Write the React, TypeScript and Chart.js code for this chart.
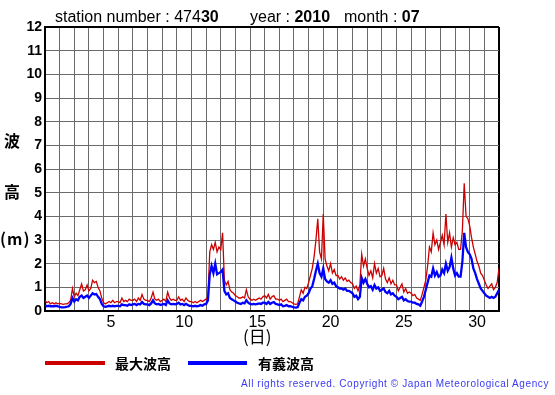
import React, { useEffect, useRef } from 'react';
import { Chart, registerables } from 'chart.js';

Chart.register(...registerables);

// ---- data -------------------------------------------------------------
const DAYS_IN_MONTH = 31;
const SAMPLES_PER_DAY = 8; // one sample every 3 hours
const Y_MIN = 0;
const Y_MAX = 12;
const DAY_LABEL_EVERY = 5;

const TITLE_STATION = '47430';
const TITLE_YEAR = '2010';
const TITLE_MONTH = '07';

const SERIES_NAMES = ['最大波高', '有義波高'];

// maximum wave height (m), 8 samples per day, plus the closing sample
const maxWave = [
  0.45, 0.35, 0.4, 0.3, 0.35, 0.3, 0.35, 0.3,
  0.32, 0.3, 0.28, 0.3, 0.3, 0.35, 0.45, 0.95,
  0.6, 0.75, 0.65, 0.9, 1.15, 0.85, 0.9, 1.1,
  0.85, 0.95, 1.3, 1.2, 1.25, 1.0, 0.85, 0.55,
  0.35, 0.3, 0.35, 0.4, 0.35, 0.45, 0.35, 0.4,
  0.4, 0.35, 0.55, 0.4, 0.45, 0.4, 0.5, 0.45,
  0.45, 0.5, 0.4, 0.55, 0.45, 0.7, 0.5, 0.45,
  0.45, 0.4, 0.55, 0.8, 0.5, 0.45, 0.5, 0.4,
  0.45, 0.5, 0.4, 0.8, 0.55, 0.45, 0.5, 0.45,
  0.45, 0.6, 0.45, 0.5, 0.4, 0.55, 0.45, 0.4,
  0.4, 0.35, 0.4, 0.35, 0.4, 0.45, 0.4, 0.45,
  0.5, 0.6, 2.5, 2.8, 2.6, 2.9, 2.5, 2.7,
  2.6, 3.3, 1.3, 1.1, 1.25, 0.9, 0.8, 0.75,
  0.65, 0.6, 0.55, 0.55, 0.6, 0.55, 0.9, 0.6,
  0.5, 0.45, 0.5, 0.45, 0.5, 0.55, 0.5, 0.6,
  0.65, 0.55, 0.7, 0.5, 0.6, 0.65, 0.5, 0.5,
  0.45, 0.5, 0.4, 0.45, 0.5, 0.4, 0.4, 0.35,
  0.3, 0.28, 0.3, 0.6, 0.9, 0.75, 1.0, 0.95,
  1.2, 1.5, 1.8, 2.3, 3.0, 3.9, 2.5, 2.2,
  4.1, 2.2, 1.9, 1.7, 2.0, 1.6, 1.75, 1.5,
  1.5, 1.35, 1.45, 1.3, 1.4, 1.25, 1.3, 1.2,
  1.15, 0.95, 1.05, 0.85, 1.1, 2.4, 1.9, 2.2,
  1.8, 1.5, 1.7, 1.4, 2.0, 1.6, 1.8, 1.45,
  1.5, 1.8, 1.35, 1.2, 1.4, 1.15, 1.3, 1.1,
  1.1, 0.85, 1.0, 1.15, 0.8, 0.95, 0.75, 0.8,
  0.75, 0.65, 0.7, 0.55, 0.5, 0.45, 0.7, 1.0,
  1.3, 1.9, 2.7, 2.5, 3.3, 2.8, 3.0, 2.6,
  2.9, 3.2, 2.8, 4.1, 2.9, 3.3, 2.7, 3.1,
  2.8, 2.9, 2.6, 2.6, 3.4, 5.4, 4.0, 3.9,
  3.6, 3.1, 2.7, 2.4, 2.1, 1.9, 1.6, 1.5,
  1.3, 1.1, 0.95, 1.05, 1.15, 0.9, 1.0, 1.2,
  1.8,
];

// significant wave height (m)
const sigWave = [
  0.25, 0.2, 0.22, 0.2, 0.2, 0.2, 0.22, 0.2,
  0.18, 0.15, 0.15, 0.16, 0.18, 0.2, 0.3, 0.55,
  0.4, 0.5, 0.45, 0.6, 0.65, 0.55, 0.6, 0.65,
  0.55, 0.65, 0.75, 0.7, 0.72, 0.6, 0.5, 0.3,
  0.2, 0.18, 0.2, 0.22, 0.2, 0.22, 0.2, 0.22,
  0.22, 0.2, 0.28, 0.25, 0.25, 0.22, 0.28, 0.25,
  0.28, 0.3, 0.25, 0.3, 0.28, 0.38, 0.3, 0.28,
  0.28, 0.25, 0.32, 0.45, 0.32, 0.28, 0.3, 0.25,
  0.28, 0.3, 0.25, 0.45, 0.32, 0.28, 0.3, 0.28,
  0.3, 0.35, 0.28, 0.3, 0.25, 0.3, 0.25, 0.22,
  0.22, 0.2, 0.22, 0.2, 0.22, 0.25, 0.22, 0.28,
  0.3, 0.45, 1.55, 1.9, 1.6, 2.0, 1.55, 1.6,
  1.65, 1.75, 0.85, 0.7, 0.75, 0.55, 0.5, 0.45,
  0.4, 0.35, 0.32, 0.3, 0.35, 0.32, 0.45, 0.35,
  0.3, 0.28, 0.3, 0.28, 0.3, 0.32, 0.3, 0.35,
  0.35, 0.3, 0.38, 0.3, 0.35, 0.38, 0.3, 0.28,
  0.25, 0.28, 0.2, 0.22, 0.25, 0.2, 0.2, 0.18,
  0.15, 0.14, 0.16, 0.35, 0.5, 0.45, 0.6, 0.65,
  0.75, 0.95, 1.05, 1.35, 1.7, 2.0, 1.6, 1.45,
  1.8, 1.35, 1.25, 1.2, 1.3, 1.15, 1.2, 1.05,
  1.0, 0.95, 0.95, 0.9, 0.95, 0.85, 0.85, 0.8,
  0.75, 0.6, 0.65, 0.5, 0.6, 1.4, 1.2, 1.35,
  1.15, 1.0, 1.05, 0.9, 1.1, 0.95, 1.0, 0.85,
  0.9, 0.95, 0.8, 0.75, 0.85, 0.7, 0.75, 0.65,
  0.6, 0.5, 0.55, 0.6, 0.45, 0.5, 0.42, 0.4,
  0.4, 0.35, 0.35, 0.3, 0.28, 0.22, 0.4, 0.6,
  0.9, 1.2, 1.5, 1.45, 1.8, 1.5, 1.65, 1.45,
  1.5, 1.75, 1.6, 2.0, 1.7, 1.85, 2.25, 1.8,
  1.5, 1.6, 1.45, 1.45, 2.1, 3.3, 2.7, 2.5,
  2.4, 2.2, 1.8, 1.6, 1.35, 1.15, 0.95, 0.85,
  0.75, 0.65, 0.6, 0.55, 0.6, 0.55, 0.6, 0.75,
  0.9,
];

// ---- styling ----------------------------------------------------------
const W = 555;
const H = 395;
const PLOT_LEFT = 45;
const PLOT_TOP = 27;
const PLOT_RIGHT = 499;
const PLOT_BOTTOM = 311;
const X_AXIS_H = 30;
const RED = 'rgb(204,0,0)';
const BLUE = 'rgb(0,0,255)';
const GRID = '#6a6a6a';
const SANS = '"Liberation Sans", Arial, Helvetica, sans-serif';
const CJK = '"Noto Sans CJK JP", "Noto Sans", sans-serif';

const toPoints = (vals: number[]) =>
  vals.map((v, i) => ({ x: i / SAMPLES_PER_DAY, y: v }));

export default function App() {
  const canvasRef = useRef<HTMLCanvasElement | null>(null);

  useEffect(() => {
    const canvas = canvasRef.current;
    if (!canvas) return;
    const colW = (PLOT_RIGHT - PLOT_LEFT) / DAYS_IN_MONTH;
    const chart = new Chart(canvas, {
      type: 'line',
      data: {
        datasets: [
          {
            label: SERIES_NAMES[0],
            data: toPoints(maxWave),
            borderColor: RED,
            borderWidth: 1.3,
            pointRadius: 0,
            tension: 0,
            order: 2,
          },
          {
            label: SERIES_NAMES[1],
            data: toPoints(sigWave),
            borderColor: BLUE,
            borderWidth: 2.3,
            pointRadius: 0,
            tension: 0,
            order: 1,
          },
        ],
      },
      options: {
        responsive: false,
        animation: false,
        devicePixelRatio: 1,
        events: [],
        layout: {
          padding: {
            left: 0,
            top: PLOT_TOP,
            right: W - PLOT_RIGHT,
            bottom: H - PLOT_BOTTOM - X_AXIS_H,
          },
        },
        plugins: {
          legend: { display: false },
          tooltip: { enabled: false },
          title: { display: false },
        },
        scales: {
          x: {
            type: 'linear',
            min: 0,
            max: DAYS_IN_MONTH,
            afterFit: (s: any) => {
              s.height = X_AXIS_H;
            },
            ticks: {
              stepSize: 1,
              autoSkip: false,
              maxRotation: 0,
              minRotation: 0,
              padding: 2,
              labelOffset: colW / 2,
              color: '#000',
              font: { family: SANS, size: 16 },
              callback: (v: any) => {
                const day = Number(v) + 1;
                return day % DAY_LABEL_EVERY === 0 && day <= DAYS_IN_MONTH ? String(day) : '';
              },
            },
            grid: {
              drawTicks: false,
              color: (c: any) => (c.tick && c.tick.value === DAYS_IN_MONTH ? '#000' : GRID),
              lineWidth: (c: any) => (c.tick && c.tick.value === DAYS_IN_MONTH ? 2 : 1),
            },
            border: { display: true, color: '#000', width: 2 },
          },
          y: {
            type: 'linear',
            min: Y_MIN,
            max: Y_MAX,
            afterFit: (s: any) => {
              s.width = PLOT_LEFT;
            },
            ticks: {
              stepSize: 1,
              padding: 3,
              color: '#000',
              font: { family: SANS, size: 14, weight: 'bold' },
            },
            grid: {
              drawTicks: false,
              color: (c: any) => (c.tick && c.tick.value === Y_MAX ? '#000' : GRID),
              lineWidth: (c: any) => (c.tick && c.tick.value === Y_MAX ? 2 : 1),
            },
            border: { display: true, color: '#000', width: 2 },
          },
        },
      },
    });
    return () => chart.destroy();
  }, []);

  const abs = (extra: React.CSSProperties): React.CSSProperties => ({
    position: 'absolute',
    whiteSpace: 'nowrap',
    color: '#000',
    ...extra,
  });

  return (
    <div style={{ position: 'absolute', left: 0, top: 0, width: W, height: H, background: '#fff', overflow: 'hidden' }}>
      <canvas ref={canvasRef} width={W} height={H} style={{ position: 'absolute', left: 0, top: 0, width: W, height: H }} />

      {/* header */}
      <div style={abs({ left: 55, top: 7, fontFamily: SANS, fontSize: 16, lineHeight: '20px' })}>
        station number : {TITLE_STATION.slice(0, 3)}<b>{TITLE_STATION.slice(3)}</b>
      </div>
      <div style={abs({ left: 250, top: 7, fontFamily: SANS, fontSize: 16, lineHeight: '20px' })}>
        year : <b>{TITLE_YEAR}</b>
      </div>
      <div style={abs({ left: 344, top: 7, fontFamily: SANS, fontSize: 16, lineHeight: '20px' })}>
        month : <b>{TITLE_MONTH}</b>
      </div>

      {/* y-axis title */}
      <div style={abs({ left: 4, top: 131, fontFamily: CJK, fontSize: 16, fontWeight: 700, lineHeight: '18px' })}>波</div>
      <div style={abs({ left: 4, top: 182, fontFamily: CJK, fontSize: 16, fontWeight: 700, lineHeight: '18px' })}>高</div>
      <div style={abs({ left: 0, top: 229, fontFamily: CJK, fontSize: 16, fontWeight: 700, lineHeight: '18px', letterSpacing: 1 })}>(m)</div>

      {/* x-axis title */}
      <div style={abs({ left: 243, top: 326, fontFamily: CJK, fontSize: 17, lineHeight: '20px' })}>(日)</div>

      {/* legend */}
      <div style={abs({ left: 45, top: 361, width: 60, height: 4, background: RED })} />
      <div style={abs({ left: 115, top: 353, fontFamily: CJK, fontSize: 14, fontWeight: 700, lineHeight: '20px' })}>{SERIES_NAMES[0]}</div>
      <div style={abs({ left: 188, top: 361, width: 59, height: 4, background: BLUE })} />
      <div style={abs({ left: 258, top: 353, fontFamily: CJK, fontSize: 14, fontWeight: 700, lineHeight: '20px' })}>{SERIES_NAMES[1]}</div>

      {/* credit */}
      <div style={abs({ right: 6, top: 377, fontFamily: SANS, fontSize: 10, lineHeight: '14px', letterSpacing: 0.6, color: '#3a3af0' })}>
        All rights reserved. Copyright © Japan Meteorological Agency
      </div>
    </div>
  );
}
